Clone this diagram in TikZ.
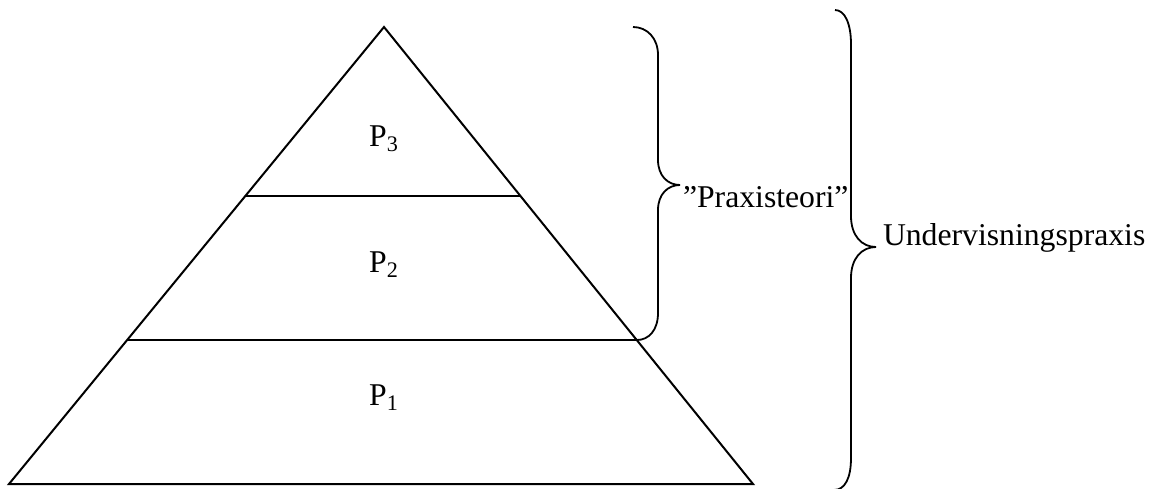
\documentclass[tikz,border=0pt]{standalone}
\usepackage{fontspec}
\setmainfont{Liberation Serif}
\usetikzlibrary{calc}
\begin{document}
\begin{tikzpicture}[x=0.5pt,y=-0.5pt,line join=miter,
  edge/.style={draw=black,line width=1pt},
  bracestroke/.style={draw=black,line width=0.9pt},
  lbl/.style={inner sep=0pt,outer sep=0pt,font=\fontsize{15.85}{19}\selectfont}]
\useasboundingbox (0,0) rectangle (1152,488);
% triangle
\coordinate (apex) at (384,27);
\coordinate (bl) at (9,484);
\coordinate (br) at (753,484);
\draw[edge] (bl) -- (apex) -- (br) -- cycle;
% layer lines
\coordinate (l1a) at ($(bl)!0.315!(apex)$);
\coordinate (l1b) at ($(br)!0.315!(apex)$);
\coordinate (l2a) at ($(bl)!0.630!(apex)$);
\coordinate (l2b) at ($(br)!0.630!(apex)$);
\draw[edge] (l1a) -- (l1b);
\draw[edge] (l2a) -- (l2b);
% layer labels
\node[lbl,anchor=base] (p3) at (384,146) {P\textsubscript{3}};
\node[lbl,anchor=base] (p2) at (384,272) {P\textsubscript{2}};
\node[lbl,anchor=base] (p1) at (384,405) {P\textsubscript{1}};
% brace 1
\coordinate (b1top) at (633,27);
\coordinate (b1tip) at (680,185);
\coordinate (b1bot) at (l1b);
\draw[bracestroke] (b1top) .. controls (647,27) and (658,38) .. (658,55)
  -- (658,160) .. controls (658,176) and (668,185) .. (b1tip)
  .. controls (668,185) and (658,194) .. (658,210)
  -- (658,313) .. controls (658,330) and (649,340) .. (b1bot);
\node[lbl,anchor=base west] (praxteori) at (683,207) {”Praxisteori”};
% brace 2
\coordinate (b2top) at (835,10);
\coordinate (b2tip) at (876,247);
\coordinate (b2bot) at (834,490);
\draw[bracestroke] (b2top) .. controls (845,10) and (851,24) .. (851,44)
  -- (851,216) .. controls (851,236) and (862,247) .. (b2tip)
  .. controls (862,247) and (851,258) .. (851,278)
  -- (851,458) .. controls (851,478) and (845,490) .. (b2bot);
\node[lbl,anchor=base west] (undpraxis) at (883,245) {Undervisningspraxis};
\end{tikzpicture}
\end{document}
